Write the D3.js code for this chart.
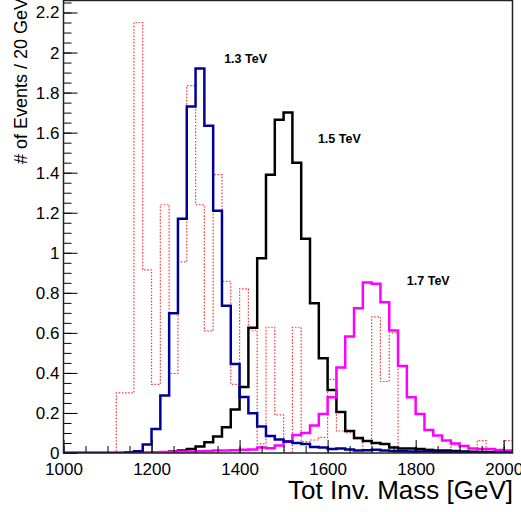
<!DOCTYPE html>
<html lang="en">
<head>
    <meta charset="UTF-8">
    <title>Tot Inv. Mass</title>
    <script type='text/javascript' src="https://d3js.org/d3.v7.min.js"></script>
    <style>
        body { margin: 0; padding: 0; background: #fff; }
        text { font-family: "Liberation Sans", Arial, Helvetica, sans-serif; }
    </style>
</head>
<body>
<svg id="chart" width="521" height="512"></svg>
<script>
    // 20 GeV bins from 1000 to 2020 GeV
    const binStart = 1000;
    const binWidth = 20;

    // background (red dotted)
    const bkg = [0, 0, 0, 0, 0, 0, 0.30, 0.30, 2.15, 0.915,
        0.343, 1.24, 0.397, 0.955, 1.835, 1.24, 0.61, 1.39, 0.857, 0.343,
        0.82, 0.613, 0.046, 0.628, 0.19, 0, 0.628, 0.057, 0.065, 0.078,
        0.368, 0.11, 0.10, 0.07, 0.012, 0.68, 0.357, 0.60, 0, 0,
        0, 0.02, 0, 0, 0.04, 0, 0, 0.062, 0, 0,
        0.062];

    // 1.3 TeV signal (blue)
    const sig13 = [0, 0, 0, 0, 0, 0, 0, 0.003, 0.009, 0.043,
        0.12, 0.287, 0.698, 1.17, 1.73, 1.92, 1.635, 1.21, 0.735, 0.445,
        0.28, 0.198, 0.132, 0.085, 0.068, 0.057, 0.05, 0.045, 0.03, 0.028,
        0.02, 0.023, 0.018, 0.012, 0.014, 0.016, 0.012, 0.01, 0.009, 0.008,
        0.008, 0.007, 0.006, 0.006, 0.005, 0.005, 0.004, 0.004, 0.003, 0.003,
        0.003];

    // 1.5 TeV signal (black)
    const sig15 = [0, 0, 0, 0, 0, 0, 0, 0, 0, 0,
        0, 0.003, 0.007, 0.013, 0.02, 0.032, 0.054, 0.082, 0.128, 0.217,
        0.33, 0.625, 0.973, 1.39, 1.665, 1.70, 1.45, 1.07, 0.748, 0.473,
        0.315, 0.205, 0.11, 0.075, 0.06, 0.05, 0.045, 0.028, 0.022, 0.022,
        0.02, 0.015, 0.013, 0.012, 0.01, 0.008, 0.006, 0.005, 0.005, 0.004,
        0.004];

    // 1.7 TeV signal (magenta)
    const sig17 = [0, 0, 0, 0, 0, 0, 0, 0, 0.002, 0.003,
        0.004, 0.005, 0.006, 0.007, 0.008, 0.009, 0.01, 0.012, 0.013, 0.014,
        0.016, 0.018, 0.028, 0.024, 0.037, 0.057, 0.09, 0.10, 0.137, 0.195,
        0.278, 0.427, 0.582, 0.723, 0.852, 0.845, 0.753, 0.612, 0.435, 0.278,
        0.195, 0.115, 0.087, 0.062, 0.048, 0.035, 0.023, 0.02, 0.02, 0.015,
        0.013];

    const xTicks = [1000, 1200, 1400, 1600, 1800, 2000];
    const yTicks = [0, 0.2, 0.4, 0.6, 0.8, 1, 1.2, 1.4, 1.6, 1.8, 2, 2.2];

    const labelText = ["1.3 TeV", "1.5 TeV", "1.7 TeV"];
    const labelMass = [1365, 1578, 1780];
    const labelVal = [1.948, 1.548, 0.84];

    let svg = d3.select("#chart");
    let plotLeft = 63.5, plotRight = 512.5, plotTop = 0.5, plotBottom = 453;

    let x = d3.scaleLinear().domain([1000, 2020]).range([plotLeft, plotRight]);
    let y = d3.scaleLinear().domain([0, 2.26]).range([plotBottom, plotTop]);

    svg.append("rect").attr("width", 521).attr("height", 512).attr("fill", "#fff");

    svg.append("clipPath").attr("id", "plotClip")
        .append("rect")
        .attr("x", plotLeft).attr("y", plotTop)
        .attr("width", plotRight - plotLeft).attr("height", plotBottom - plotTop);

    // Turn bin contents into a step outline.
    function stepPoints(values) {
        let pts = [[binStart, 0]];
        values.forEach(function(v, i) {
            pts.push([binStart + i * binWidth, v]);
            pts.push([binStart + (i + 1) * binWidth, v]);
        });
        pts.push([binStart + values.length * binWidth, 0]);
        return pts;
    }

    let line = d3.line()
        .x(function(d) { return x(d[0]); })
        .y(function(d) { return y(d[1]); });

    let histGroup = svg.append("g").attr("clip-path", "url(#plotClip)");

    let hists = [
        { values: bkg, color: "#ff1a1a", width: 1.2, dash: "1.6,1.6", opacity: 0.85 },
        { values: sig15, color: "#000000", width: 2.5, dash: null, opacity: 1 },
        { values: sig17, color: "#ff00ff", width: 2.5, dash: null, opacity: 1 },
        { values: sig13, color: "#000099", width: 2.5, dash: null, opacity: 1 }
    ];

    histGroup.selectAll("path")
        .data(hists)
        .enter().append("path")
        .attr("d", function(h) { return line(stepPoints(h.values)); })
        .attr("fill", "none")
        .attr("stroke", function(h) { return h.color; })
        .attr("stroke-width", function(h) { return h.width; })
        .attr("stroke-dasharray", function(h) { return h.dash; })
        .attr("stroke-opacity", function(h) { return h.opacity; })
        .attr("stroke-linejoin", "miter");

    // Minor ticks (no labels)
    let xMinor = d3.range(1000, 2021, 50);
    let yMinor = d3.range(0, 2.26, 0.05);

    svg.append("g")
        .attr("transform", "translate(0," + plotBottom + ")")
        .call(d3.axisBottom(x).tickValues(xMinor).tickSize(-7))
        .call(function(g) {
            g.select(".domain").remove();
            g.selectAll("text").remove();
        });

    svg.append("g")
        .attr("transform", "translate(" + plotLeft + ",0)")
        .call(d3.axisLeft(y).tickValues(yMinor).tickSize(-8))
        .call(function(g) {
            g.select(".domain").remove();
            g.selectAll("text").remove();
        });

    // Major ticks with labels
    let xAxis = svg.append("g")
        .attr("transform", "translate(0," + plotBottom + ")")
        .call(d3.axisBottom(x).tickValues(xTicks).tickSize(-13).tickPadding(10).tickFormat(d3.format("d")));
    xAxis.select(".domain").remove();
    xAxis.selectAll("text").attr("font-size", 17).attr("fill", "#000");

    let yAxis = svg.append("g")
        .attr("transform", "translate(" + plotLeft + ",0)")
        .call(d3.axisLeft(y).tickValues(yTicks).tickSize(-14).tickPadding(4)
            .tickFormat(function(d) { return String(+d.toFixed(1)); }));
    yAxis.select(".domain").remove();
    yAxis.selectAll("text").attr("font-size", 17).attr("fill", "#000");

    svg.selectAll(".tick line").attr("stroke", "#000");

    // Frame
    svg.append("rect")
        .attr("x", plotLeft).attr("y", plotTop)
        .attr("width", plotRight - plotLeft).attr("height", plotBottom - plotTop)
        .attr("fill", "none")
        .attr("stroke", "#222")
        .attr("stroke-width", 1.5);

    // Peak labels
    svg.selectAll(".peakLabel")
        .data(labelText)
        .enter().append("text")
        .attr("class", "peakLabel")
        .attr("x", function(d, i) { return x(labelMass[i]); })
        .attr("y", function(d, i) { return y(labelVal[i]); })
        .attr("font-size", 12.5)
        .attr("font-weight", "bold")
        .text(function(d) { return d; });

    // Axis titles
    svg.append("text")
        .attr("x", 513)
        .attr("y", 499)
        .attr("text-anchor", "end")
        .attr("font-size", 26)
        .text("Tot Inv. Mass [GeV]");

    svg.append("text")
        .attr("transform", "translate(27,-2) rotate(-90)")
        .attr("text-anchor", "end")
        .attr("font-size", 18)
        .text("# of Events / 20 GeV");
</script>
</body>
</html>
